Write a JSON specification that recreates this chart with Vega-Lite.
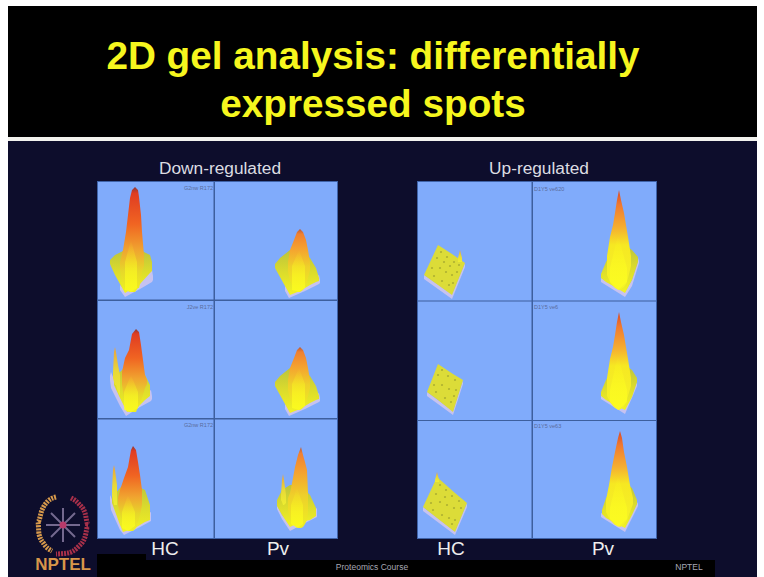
{"$schema":"https://vega.github.io/schema/vega-lite/v6.json","width":764,"height":577,"autosize":{"type":"fit","contains":"padding"},"padding":0,"background":"#ffffff","view":{"stroke":null},
"datasets":{
"rects":[
{"p":"black","x":8,"x2":757,"y":6,"y2":137},{"p":"line","x":8,"x2":757,"y":137,"y2":141},{"p":"navy","x":8,"x2":757,"y":141,"y2":577},
{"p":"edge","x":97,"x2":338,"y":181,"y2":539},{"p":"edge","x":417,"x2":657,"y":181,"y2":539},
{"p":"panel","x":98,"x2":337,"y":182,"y2":538},{"p":"panel","x":418,"x2":656,"y":182,"y2":538},
{"p":"div","x":213.5,"x2":215,"y":182,"y2":538},{"p":"div","x":98,"x2":337,"y":299.5,"y2":301},{"p":"div","x":98,"x2":337,"y":418,"y2":419.5},
{"p":"div","x":531.5,"x2":533,"y":182,"y2":538},{"p":"div","x":418,"x2":656,"y":300.5,"y2":301.5},{"p":"div","x":418,"x2":656,"y":420,"y2":421},
{"p":"black","x":97,"x2":146,"y":554,"y2":577},{"p":"black","x":146,"x2":715,"y":560,"y2":577}],
"shadow":[
{"s":"A1","x":120,"y":285,"y2":290},{"s":"A1","x":125,"y":290,"y2":297},{"s":"A1","x":140,"y":280,"y2":289},{"s":"A1","x":152,"y":270,"y2":282},{"s":"A1","x":153,"y":276,"y2":280},
{"s":"B1","x":285,"y":285,"y2":291},{"s":"B1","x":289,"y":292,"y2":298},{"s":"B1","x":305,"y":285,"y2":291},{"s":"B1","x":319,"y":275,"y2":284},{"s":"B1","x":320,"y":280,"y2":283},
{"s":"A2","x":110,"y":376,"y2":380},{"s":"A2","x":111,"y":372,"y2":388},{"s":"A2","x":120,"y":395,"y2":406},{"s":"A2","x":126,"y":408,"y2":416},{"s":"A2","x":140,"y":398,"y2":407},{"s":"A2","x":151,"y":390,"y2":401},{"s":"A2","x":152,"y":396,"y2":399},
{"s":"B2","x":285,"y":403,"y2":409},{"s":"B2","x":289,"y":410,"y2":416},{"s":"B2","x":305,"y":403,"y2":409},{"s":"B2","x":319,"y":393,"y2":402},{"s":"B2","x":320,"y":398,"y2":401},
{"s":"A3","x":110,"y":495,"y2":500},{"s":"A3","x":111,"y":497,"y2":510},{"s":"A3","x":120,"y":520,"y2":530},{"s":"A3","x":124,"y":528,"y2":535},{"s":"A3","x":140,"y":518,"y2":527},{"s":"A3","x":151,"y":512,"y2":521},
{"s":"B3","x":277,"y":505,"y2":509},{"s":"B3","x":282,"y":515,"y2":519},{"s":"B3","x":290,"y":524,"y2":531},{"s":"B3","x":305,"y":518,"y2":523},{"s":"B3","x":317,"y":508,"y2":517},
{"s":"C1","x":424,"y":275,"y2":279},{"s":"C1","x":452,"y":294,"y2":299},{"s":"C1","x":465,"y":263,"y2":267},
{"s":"C2","x":427,"y":392,"y2":396},{"s":"C2","x":453,"y":411,"y2":415},{"s":"C2","x":463,"y":380,"y2":384},
{"s":"C3","x":423,"y":507,"y2":511},{"s":"C3","x":455,"y":531,"y2":535},{"s":"C3","x":467,"y":503,"y2":507},
{"s":"D1","x":601,"y":278,"y2":282},{"s":"D1","x":625,"y":292,"y2":297},{"s":"D1","x":632,"y":280,"y2":286},{"s":"D1","x":639,"y":258,"y2":263},
{"s":"D2","x":601,"y":395,"y2":399},{"s":"D2","x":625,"y":409,"y2":414},{"s":"D2","x":637,"y":382,"y2":386},
{"s":"D3","x":601,"y":513,"y2":517},{"s":"D3","x":625,"y":527,"y2":532},{"s":"D3","x":638,"y":502,"y2":506}],
"base":[
{"s":"A1","x":110,"y":260,"y2":264},{"s":"A1","x":115,"y":255,"y2":275},{"s":"A1","x":125,"y":250,"y2":293},{"s":"A1","x":140,"y":250,"y2":284},{"s":"A1","x":150,"y":255,"y2":273},{"s":"A1","x":152,"y":262,"y2":271},
{"s":"B1","x":275,"y":264,"y2":268},{"s":"B1","x":280,"y":258,"y2":277},{"s":"B1","x":290,"y":250,"y2":295},{"s":"B1","x":300,"y":250,"y2":291},{"s":"B1","x":310,"y":258,"y2":285},{"s":"B1","x":316,"y":268,"y2":282},{"s":"B1","x":319,"y":278,"y2":281},
{"s":"B2","x":275,"y":382,"y2":386},{"s":"B2","x":280,"y":376,"y2":395},{"s":"B2","x":290,"y":368,"y2":413},{"s":"B2","x":300,"y":368,"y2":409},{"s":"B2","x":310,"y":376,"y2":403},{"s":"B2","x":316,"y":386,"y2":400},{"s":"B2","x":319,"y":396,"y2":399},
{"s":"A2","x":114,"y":375,"y2":385},{"s":"A2","x":120,"y":372,"y2":398},{"s":"A2","x":127,"y":365,"y2":412},{"s":"A2","x":135,"y":365,"y2":410},{"s":"A2","x":145,"y":375,"y2":400},{"s":"A2","x":150,"y":385,"y2":396},
{"s":"A3","x":112,"y":497,"y2":503},{"s":"A3","x":120,"y":488,"y2":525},{"s":"A3","x":123,"y":485,"y2":532},{"s":"A3","x":135,"y":485,"y2":528},{"s":"A3","x":145,"y":490,"y2":522},{"s":"A3","x":150,"y":505,"y2":520},
{"s":"B3","x":277,"y":500,"y2":506},{"s":"B3","x":282,"y":490,"y2":515},{"s":"B3","x":290,"y":485,"y2":527},{"s":"B3","x":300,"y":485,"y2":522},{"s":"B3","x":310,"y":495,"y2":520},{"s":"B3","x":316,"y":508,"y2":516},
{"s":"D1","x":601,"y":274,"y2":278},{"s":"D1","x":606,"y":262,"y2":282},{"s":"D1","x":615,"y":245,"y2":287},{"s":"D1","x":625,"y":245,"y2":293},{"s":"D1","x":632,"y":250,"y2":280},{"s":"D1","x":638,"y":257,"y2":262},
{"s":"D2","x":601,"y":392,"y2":396},{"s":"D2","x":606,"y":380,"y2":400},{"s":"D2","x":615,"y":365,"y2":405},{"s":"D2","x":625,"y":365,"y2":410},{"s":"D2","x":632,"y":370,"y2":397},{"s":"D2","x":637,"y":378,"y2":382},
{"s":"D3","x":602,"y":510,"y2":514},{"s":"D3","x":606,"y":498,"y2":518},{"s":"D3","x":615,"y":483,"y2":523},{"s":"D3","x":625,"y":483,"y2":528},{"s":"D3","x":632,"y":488,"y2":515},{"s":"D3","x":637,"y":500,"y2":504}],
"mat":[
{"s":"C1","x":424,"y":275,"y2":275},{"s":"C1","x":438,"y":245,"y2":285},{"s":"C1","x":452,"y":254,"y2":295},{"s":"C1","x":465,"y":263,"y2":263},
{"s":"C2","x":427,"y":392,"y2":392},{"s":"C2","x":438,"y":364,"y2":400},{"s":"C2","x":453,"y":374,"y2":412},{"s":"C2","x":463,"y":380,"y2":380},
{"s":"C3","x":423,"y":507,"y2":507},{"s":"C3","x":437,"y":477,"y2":518},{"s":"C3","x":455,"y":493,"y2":532},{"s":"C3","x":467,"y":503,"y2":503}],
"speck":[
{"x":432,"y":268},{"x":437,"y":258},{"x":441,"y":252},{"x":447,"y":257},{"x":454,"y":262},{"x":459,"y":265},{"x":434,"y":276},{"x":440,"y":268},{"x":446,"y":272},{"x":452,"y":275},{"x":457,"y":272},{"x":442,"y":281},{"x":449,"y":285},{"x":453,"y":283},{"x":444,"y":262},{"x":450,"y":266},
{"x":434,"y":385},{"x":438,"y":375},{"x":442,"y":370},{"x":448,"y":376},{"x":455,"y":380},{"x":436,"y":392},{"x":442,"y":385},{"x":449,"y":389},{"x":456,"y":390},{"x":445,"y":398},{"x":451,"y":402},{"x":454,"y":396},
{"x":431,"y":503},{"x":436,"y":494},{"x":440,"y":485},{"x":446,"y":490},{"x":452,"y":496},{"x":459,"y":501},{"x":433,"y":510},{"x":440,"y":502},{"x":447,"y":505},{"x":454,"y":508},{"x":461,"y":508},{"x":442,"y":515},{"x":449,"y":518},{"x":455,"y":520},{"x":445,"y":497},{"x":452,"y":524}],
"spike":[
{"s":"A2","x":113,"y":372,"y2":378},{"s":"A2","x":114,"y":352,"y2":382},{"s":"A2","x":115,"y":347,"y2":385},{"s":"A2","x":116,"y":352,"y2":385},{"s":"A2","x":118,"y":365,"y2":392},{"s":"A2","x":120,"y":375,"y2":396},
{"s":"A3","x":112,"y":490,"y2":496},{"s":"A3","x":113,"y":470,"y2":500},{"s":"A3","x":114,"y":465,"y2":505},{"s":"A3","x":115,"y":470,"y2":505},{"s":"A3","x":117,"y":485,"y2":505},
{"s":"B3","x":281,"y":495,"y2":500},{"s":"B3","x":282,"y":480,"y2":502},{"s":"B3","x":283,"y":474,"y2":505},{"s":"B3","x":284,"y":480,"y2":505},{"s":"B3","x":286,"y":495,"y2":503},
{"s":"C1","x":458,"y":258,"y2":262},{"s":"C1","x":460,"y":250,"y2":262},{"s":"C1","x":462,"y":258,"y2":262},
{"s":"C3","x":435,"y":480,"y2":482},{"s":"C3","x":437,"y":472,"y2":482},{"s":"C3","x":439,"y":480,"y2":482}],
"red":[
{"s":"A1","x":120,"y":262,"y2":270},{"s":"A1","x":123,"y":250,"y2":285},{"s":"A1","x":126,"y":232,"y2":290},{"s":"A1","x":130,"y":198,"y2":292},{"s":"A1","x":132,"y":190,"y2":292},{"s":"A1","x":135,"y":187,"y2":292},{"s":"A1","x":138,"y":190,"y2":288},{"s":"A1","x":139,"y":197,"y2":288},{"s":"A1","x":141,"y":215,"y2":280},{"s":"A1","x":142,"y":232,"y2":272},{"s":"A1","x":144,"y":255,"y2":266},
{"s":"A2","x":122,"y":372,"y2":385},{"s":"A2","x":125,"y":358,"y2":405},{"s":"A2","x":129,"y":350,"y2":412},{"s":"A2","x":132,"y":334,"y2":412},{"s":"A2","x":136,"y":329,"y2":412},{"s":"A2","x":139,"y":332,"y2":405},{"s":"A2","x":141,"y":345,"y2":400},{"s":"A2","x":143,"y":360,"y2":395},{"s":"A2","x":145,"y":375,"y2":388},{"s":"A2","x":147,"y":380,"y2":384},
{"s":"A3","x":118,"y":498,"y2":505},{"s":"A3","x":120,"y":490,"y2":515},{"s":"A3","x":124,"y":478,"y2":525},{"s":"A3","x":128,"y":467,"y2":531},{"s":"A3","x":131,"y":450,"y2":531},{"s":"A3","x":133,"y":446,"y2":531},{"s":"A3","x":136,"y":450,"y2":528},{"s":"A3","x":138,"y":462,"y2":522},{"s":"A3","x":140,"y":475,"y2":515},{"s":"A3","x":142,"y":490,"y2":505}],
"orange":[
{"s":"B1","x":288,"y":262,"y2":272},{"s":"B1","x":290,"y":250,"y2":280},{"s":"B1","x":294,"y":240,"y2":290},{"s":"B1","x":297,"y":232,"y2":292},{"s":"B1","x":300,"y":229,"y2":292},{"s":"B1","x":303,"y":232,"y2":290},{"s":"B1","x":306,"y":240,"y2":285},{"s":"B1","x":308,"y":250,"y2":278},{"s":"B1","x":310,"y":262,"y2":270},
{"s":"B2","x":288,"y":380,"y2":390},{"s":"B2","x":290,"y":368,"y2":398},{"s":"B2","x":294,"y":358,"y2":408},{"s":"B2","x":297,"y":350,"y2":410},{"s":"B2","x":300,"y":347,"y2":410},{"s":"B2","x":303,"y":350,"y2":408},{"s":"B2","x":306,"y":358,"y2":403},{"s":"B2","x":308,"y":368,"y2":396},{"s":"B2","x":310,"y":380,"y2":388},
{"s":"B3","x":288,"y":498,"y2":510},{"s":"B3","x":290,"y":493,"y2":518},{"s":"B3","x":293,"y":478,"y2":524},{"s":"B3","x":295,"y":467,"y2":526},{"s":"B3","x":298,"y":455,"y2":528},{"s":"B3","x":301,"y":447,"y2":528},{"s":"B3","x":303,"y":455,"y2":527},{"s":"B3","x":305,"y":462,"y2":524},{"s":"B3","x":307,"y":470,"y2":520},{"s":"B3","x":308,"y":493,"y2":512}],
"up":[
{"s":"D1","x":607,"y":256,"y2":275},{"s":"D1","x":610,"y":237,"y2":282},{"s":"D1","x":613,"y":225,"y2":286},{"s":"D1","x":615,"y":213,"y2":288},{"s":"D1","x":617,"y":200,"y2":289},{"s":"D1","x":619,"y":190,"y2":290},{"s":"D1","x":621,"y":200,"y2":289},{"s":"D1","x":624,"y":213,"y2":287},{"s":"D1","x":626,"y":225,"y2":284},{"s":"D1","x":628,"y":237,"y2":278},{"s":"D1","x":631,"y":256,"y2":266},
{"s":"D2","x":607,"y":378,"y2":396},{"s":"D2","x":610,"y":359,"y2":402},{"s":"D2","x":613,"y":347,"y2":406},{"s":"D2","x":615,"y":335,"y2":408},{"s":"D2","x":617,"y":322,"y2":409},{"s":"D2","x":619,"y":312,"y2":410},{"s":"D2","x":621,"y":322,"y2":409},{"s":"D2","x":624,"y":335,"y2":406},{"s":"D2","x":626,"y":347,"y2":402},{"s":"D2","x":628,"y":359,"y2":396},{"s":"D2","x":631,"y":378,"y2":386},
{"s":"D3","x":606,"y":500,"y2":512},{"s":"D3","x":609,"y":485,"y2":518},{"s":"D3","x":612,"y":467,"y2":522},{"s":"D3","x":615,"y":452,"y2":525},{"s":"D3","x":618,"y":438,"y2":526},{"s":"D3","x":620,"y":431,"y2":527},{"s":"D3","x":622,"y":438,"y2":526},{"s":"D3","x":624,"y":452,"y2":524},{"s":"D3","x":627,"y":467,"y2":520},{"s":"D3","x":630,"y":485,"y2":512},{"s":"D3","x":633,"y":498,"y2":504}],
"ridge":[
{"s":"A1","x":125,"y":262,"y2":290},{"s":"A1","x":131,"y":240,"y2":292},{"s":"A1","x":137,"y":262,"y2":288},
{"s":"B1","x":292,"y":266,"y2":290},{"s":"B1","x":299,"y":250,"y2":292},{"s":"B1","x":305,"y":266,"y2":288},
{"s":"B2","x":292,"y":384,"y2":408},{"s":"B2","x":299,"y":368,"y2":410},{"s":"B2","x":305,"y":384,"y2":406},
{"s":"A2","x":124,"y":392,"y2":410},{"s":"A2","x":131,"y":375,"y2":412},{"s":"A2","x":138,"y":392,"y2":408},
{"s":"A3","x":122,"y":512,"y2":528},{"s":"A3","x":128,"y":495,"y2":531},{"s":"A3","x":135,"y":512,"y2":526},
{"s":"B3","x":291,"y":505,"y2":524},{"s":"B3","x":297,"y":488,"y2":528},{"s":"B3","x":303,"y":505,"y2":524},
{"s":"D1","x":610,"y":268,"y2":282},{"s":"D1","x":618,"y":235,"y2":290},{"s":"D1","x":627,"y":268,"y2":282},
{"s":"D2","x":610,"y":390,"y2":402},{"s":"D2","x":618,"y":355,"y2":410},{"s":"D2","x":627,"y":390,"y2":402},
{"s":"D3","x":610,"y":508,"y2":519},{"s":"D3","x":618,"y":475,"y2":527},{"s":"D3","x":627,"y":508,"y2":519}],
"ring":[
{"p":"o","n":1,"x":56,"y":497},{"p":"o","n":2,"x":48,"y":501},{"p":"o","n":3,"x":42,"y":510},{"p":"o","n":4,"x":38,"y":522},{"p":"o","n":5,"x":39,"y":534},{"p":"o","n":6,"x":44,"y":544},{"p":"o","n":7,"x":52,"y":551},
{"p":"r","n":1,"x":71,"y":498},{"p":"r","n":2,"x":79,"y":504},{"p":"r","n":3,"x":85,"y":513},{"p":"r","n":4,"x":88,"y":525},{"p":"r","n":5,"x":85,"y":537},{"p":"r","n":6,"x":78,"y":547},{"p":"r","n":7,"x":68,"y":553},{"p":"r","n":8,"x":56,"y":554}],
"spokes":[
{"x":63,"y":525,"x2":63,"y2":508},{"x":63,"y":525,"x2":75,"y2":513},{"x":63,"y":525,"x2":80,"y2":525},{"x":63,"y":525,"x2":75,"y2":537},{"x":63,"y":525,"x2":63,"y2":542},{"x":63,"y":525,"x2":51,"y2":537},{"x":63,"y":525,"x2":46,"y2":525},{"x":63,"y":525,"x2":51,"y2":513}]
},
"encoding":{
"x":{"field":"x","type":"quantitative","scale":{"domain":[0,764],"nice":false,"zero":false},"axis":null},
"y":{"field":"y","type":"quantitative","scale":{"domain":[0,577],"reverse":true,"nice":false,"zero":false},"axis":null}},
"layer":[
{"data":{"name":"rects"},"mark":{"type":"rect"},"encoding":{"x2":{"field":"x2"},"y2":{"field":"y2"},"color":{"field":"p","type":"nominal","legend":null,"scale":{"domain":["black","line","navy","edge","panel","div","o","r"],"range":["#000000","#f2f2ee","#0d0d2c","#3f63a8","#80abfb","#3d5f9e","#d89a4c","#a8304a"]}}}},
{"data":{"name":"shadow"},"mark":{"type":"area","orient":"vertical","fill":"#c6c2f0"},"encoding":{"y2":{"field":"y2"},"detail":{"field":"s"}}},
{"data":{"name":"base"},"mark":{"type":"area","orient":"vertical","fill":{"gradient":"linear","x1":0,"y1":0,"x2":0,"y2":1,"stops":[{"offset":0,"color":"#bcc43c"},{"offset":0.5,"color":"#dcdc2c"},{"offset":1,"color":"#f2f222"}]}},"encoding":{"y2":{"field":"y2"},"detail":{"field":"s"}}},
{"data":{"name":"mat"},"mark":{"type":"area","orient":"vertical","fill":"#dcdc38"},"encoding":{"y2":{"field":"y2"},"detail":{"field":"s"}}},
{"data":{"name":"speck"},"mark":{"type":"point","filled":true,"size":5,"color":"#a4a630","opacity":0.8}},
{"data":{"name":"spike"},"mark":{"type":"area","orient":"vertical","fill":{"gradient":"linear","x1":0,"y1":0,"x2":0,"y2":1,"stops":[{"offset":0,"color":"#e8a040"},{"offset":0.5,"color":"#e8d838"},{"offset":1,"color":"#eeee30"}]}},"encoding":{"y2":{"field":"y2"},"detail":{"field":"s"}}},
{"data":{"name":"red"},"mark":{"type":"area","orient":"vertical","fill":{"gradient":"linear","x1":0,"y1":0,"x2":0,"y2":1,"stops":[{"offset":0,"color":"#8a3a3a"},{"offset":0.06,"color":"#e03c22"},{"offset":0.35,"color":"#f06422"},{"offset":0.6,"color":"#f0a430"},{"offset":0.8,"color":"#e6d82a"},{"offset":1,"color":"#eef022"}]}},"encoding":{"y2":{"field":"y2"},"detail":{"field":"s"}}},
{"data":{"name":"orange"},"mark":{"type":"area","orient":"vertical","fill":{"gradient":"linear","x1":0,"y1":0,"x2":0,"y2":1,"stops":[{"offset":0,"color":"#b85a3a"},{"offset":0.08,"color":"#f08030"},{"offset":0.3,"color":"#f5a030"},{"offset":0.6,"color":"#eed02a"},{"offset":1,"color":"#eef022"}]}},"encoding":{"y2":{"field":"y2"},"detail":{"field":"s"}}},
{"data":{"name":"up"},"mark":{"type":"area","orient":"vertical","fill":{"gradient":"linear","x1":0,"y1":0,"x2":0,"y2":1,"stops":[{"offset":0,"color":"#d84a28"},{"offset":0.15,"color":"#f07a30"},{"offset":0.38,"color":"#f5b030"},{"offset":0.55,"color":"#f6e822"},{"offset":1,"color":"#f4f428"}]}},"encoding":{"y2":{"field":"y2"},"detail":{"field":"s"}}},
{"data":{"name":"ridge"},"mark":{"type":"area","orient":"vertical","fill":{"gradient":"linear","x1":0,"y1":0,"x2":0,"y2":1,"stops":[{"offset":0,"color":"rgba(255,255,30,0)"},{"offset":0.6,"color":"rgba(255,255,30,0.55)"},{"offset":1,"color":"rgba(255,255,30,0.7)"}]}},"encoding":{"y2":{"field":"y2"},"detail":{"field":"s"}}},
{"data":{"name":"spokes"},"mark":{"type":"rule","stroke":"#74698f","strokeWidth":2},"encoding":{"x2":{"field":"x2"},"y2":{"field":"y2"}}},
{"data":{"values":[{"x":63,"y":525}]},"mark":{"type":"point","filled":true,"size":50,"color":"#b83a6a","opacity":1}},
{"data":{"name":"ring"},"mark":{"type":"line","strokeWidth":5,"strokeDash":[2,1],"interpolate":"monotone"},"encoding":{"order":{"field":"n"},"color":{"field":"p","type":"nominal","legend":null}}},
{"data":{"values":[{"t":"2D gel analysis: differentially","x":373,"y":69},{"t":"expressed spots","x":373,"y":117}]},"mark":{"type":"text","font":"Liberation Sans","fontWeight":"bold","fontSize":38.7,"color":"#f6f61e","align":"center","baseline":"alphabetic"},"encoding":{"text":{"field":"t"}}},
{"data":{"values":[{"t":"Down-regulated","x":220,"y":174},{"t":"Up-regulated","x":539,"y":174}]},"mark":{"type":"text","font":"Liberation Sans","fontSize":17.3,"color":"#dcdce2","align":"center","baseline":"alphabetic"},"encoding":{"text":{"field":"t"}}},
{"data":{"values":[{"t":"HC","x":165,"y":555},{"t":"Pv","x":278,"y":555},{"t":"HC","x":451,"y":555},{"t":"Pv","x":603,"y":555}]},"mark":{"type":"text","font":"Liberation Sans","fontSize":19,"color":"#eeeeee","align":"center","baseline":"alphabetic"},"encoding":{"text":{"field":"t"}}},
{"data":{"values":[{"t":"Proteomics Course","x":372,"y":570},{"t":"NPTEL","x":689,"y":570}]},"mark":{"type":"text","font":"Liberation Sans","fontSize":8.5,"color":"#a8a8b4","align":"center","baseline":"alphabetic"},"encoding":{"text":{"field":"t"}}},
{"data":{"values":[{"t":"G2nw R172","x":213,"y":190},{"t":"J2ve R172","x":213,"y":309},{"t":"G2nw R172","x":213,"y":427}]},"mark":{"type":"text","font":"Liberation Sans","fontSize":5.5,"color":"#5a6c9c","align":"right","baseline":"alphabetic"},"encoding":{"text":{"field":"t"}}},
{"data":{"values":[{"t":"D1Y5 ve620","x":534,"y":191},{"t":"D1Y5 ve6","x":534,"y":309},{"t":"D1Y5 ve63","x":534,"y":428}]},"mark":{"type":"text","font":"Liberation Sans","fontSize":5.5,"color":"#5a6c9c","align":"left","baseline":"alphabetic"},"encoding":{"text":{"field":"t"}}},
{"data":{"values":[{"t":"NPTEL","x":63,"y":570}]},"mark":{"type":"text","font":"Liberation Sans","fontWeight":"bold","fontSize":17,"color":"#d8964a","align":"center","baseline":"alphabetic"},"encoding":{"text":{"field":"t"}}}
]}
